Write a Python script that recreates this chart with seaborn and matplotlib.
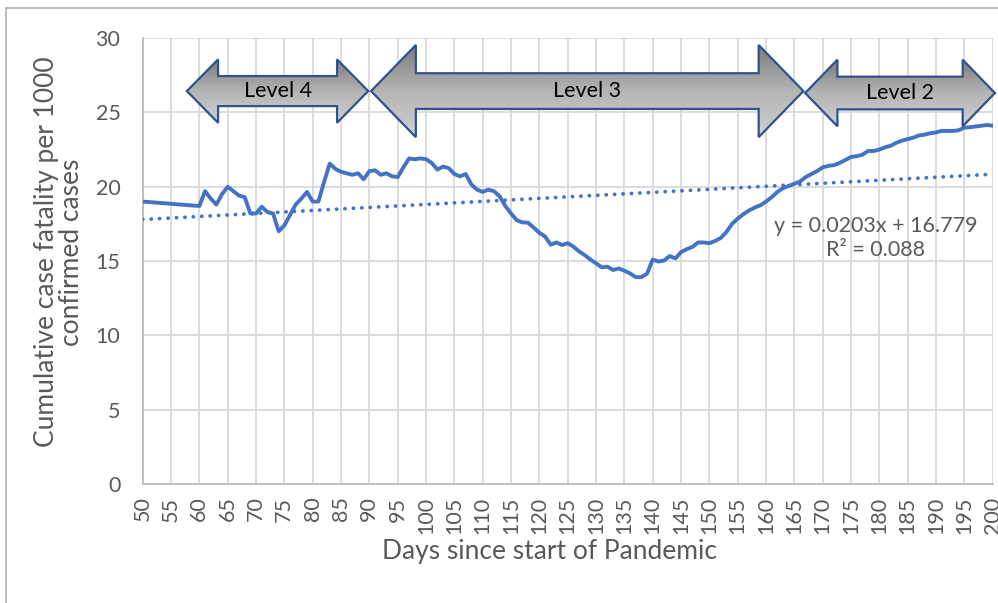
import numpy as np
import pandas as pd
import seaborn as sns
import matplotlib.pyplot as plt
from matplotlib.patches import Polygon
from matplotlib.lines import Line2D
from matplotlib.colors import LinearSegmentedColormap
from matplotlib.ticker import MultipleLocator

# days since start of pandemic and cumulative case fatality per 1000 confirmed cases
days = [50, 60, 61, 62, 63, 64, 65, 66, 67, 68, 69, 70, 71, 72, 73, 74, 75, 76, 77, 78, 79,
        80, 81, 82, 83, 84, 85, 86, 87, 88, 89, 90, 91, 92, 93, 94, 95, 96, 97, 98, 99,
        100, 101, 102, 103, 104, 105, 106, 107, 108, 109, 110, 111, 112, 113, 114, 115, 116, 117, 118, 119,
        120, 121, 122, 123, 124, 125, 126, 127, 128, 129, 130, 131, 132, 133, 134, 135, 136, 137, 138, 139,
        140, 141, 142, 143, 144, 145, 146, 147, 148, 149, 150, 151, 152, 153, 154, 155, 156, 157, 158, 159,
        160, 161, 162, 163, 164, 165, 166, 167, 168, 169, 170, 171, 172, 173, 174, 175, 176, 177, 178, 179,
        180, 181, 182, 183, 184, 185, 186, 187, 188, 189, 190, 191, 192, 193, 194, 195, 196, 197, 198, 199, 200]
fatality = [19.0, 18.7, 19.7, 19.2, 18.8, 19.5, 20.0, 19.7, 19.4, 19.3, 18.2, 18.2, 18.65, 18.3, 18.2, 17.0, 17.4, 18.1, 18.8, 19.2, 19.65,
            19.0, 19.0, 20.3, 21.55, 21.2, 21.0, 20.9, 20.8, 20.9, 20.5, 21.05, 21.1, 20.8, 20.9, 20.7, 20.65, 21.3, 21.9, 21.85, 21.9,
            21.85, 21.6, 21.15, 21.35, 21.25, 20.85, 20.7, 20.85, 20.15, 19.8, 19.65, 19.8, 19.7, 19.35, 18.7, 18.2, 17.75, 17.6, 17.58, 17.25,
            16.9, 16.65, 16.1, 16.25, 16.08, 16.2, 15.97, 15.65, 15.4, 15.1, 14.85, 14.58, 14.62, 14.4, 14.5, 14.35, 14.17, 13.92, 13.92, 14.15,
            15.1, 14.97, 15.03, 15.34, 15.18, 15.6, 15.8, 15.95, 16.25, 16.25, 16.2, 16.35, 16.55, 16.95, 17.5, 17.85, 18.15, 18.4, 18.6, 18.75,
            19.0, 19.3, 19.65, 19.9, 20.05, 20.2, 20.35, 20.65, 20.85, 21.05, 21.3, 21.4, 21.45, 21.6, 21.8, 22.0, 22.05, 22.15, 22.4, 22.4,
            22.5, 22.65, 22.75, 22.95, 23.1, 23.2, 23.3, 23.45, 23.5, 23.6, 23.65, 23.75, 23.75, 23.75, 23.8, 23.97, 24.0, 24.05, 24.1, 24.15, 24.1]

# linear trendline reported on the chart
trend_slope = 0.0203
trend_intercept = 16.779
trend_r2 = 0.088

# alert levels (day ranges shown as double arrows)
level_names = ["Level 4", "Level 3", "Level 2"]
level_start = [57.8, 90.3, 166.9]
level_end = [89.8, 166.6, 200.4]

df = pd.DataFrame({"day": days, "rate": fatality})
trend_x = np.array([min(days), max(days)])
trend = pd.DataFrame({"day": trend_x, "rate": trend_slope * trend_x + trend_intercept})

sns.set_theme(style="white")
plt.rcParams["font.family"] = ["Lato", "DejaVu Sans"]

blue = "#4472C4"
grey_txt = "#595959"
grid_c = "#d9d9d9"

fig = plt.figure(figsize=(9.98, 6.03), dpi=100)
ax = fig.add_axes([142.7 / 998, 1 - 484.1 / 603, 850 / 998, 446.1 / 603])

sns.lineplot(data=df, x="day", y="rate", ax=ax, color=blue, linewidth=2.8, zorder=3)
sns.lineplot(data=trend, x="day", y="rate", ax=ax, color=blue, linewidth=2.7,
             linestyle=(0, (0.05, 2.2)), dash_capstyle="round", zorder=3)

ax.set_xlim(50, 200)
ax.set_ylim(0, 30)
ax.xaxis.set_major_locator(MultipleLocator(5))
ax.xaxis.set_minor_locator(MultipleLocator(1))
ax.yaxis.set_major_locator(MultipleLocator(5))
ax.yaxis.set_minor_locator(MultipleLocator(1))
ax.grid(True, which="major", color=grid_c, linewidth=1.3)
ax.set_axisbelow(True)
for s in ["top", "right"]:
    ax.spines[s].set_visible(False)
for s in ["left", "bottom"]:
    ax.spines[s].set_color("#bfbfbf")
    ax.spines[s].set_linewidth(1.4)
ax.tick_params(axis="both", which="both", direction="in", color="#bfbfbf", width=1.1,
               labelcolor=grey_txt, labelsize=15.5)
ax.tick_params(axis="x", which="major", length=5, pad=9, labelrotation=90)
ax.tick_params(axis="x", which="minor", length=3.5)
ax.tick_params(axis="y", which="major", length=0, pad=16)
ax.tick_params(axis="y", which="minor", length=5)

ax.set_xlabel("Days since start of Pandemic", fontsize=19, color=grey_txt)
ax.xaxis.set_label_coords(0.479, -0.152)
ax.xaxis.label.set_va("center")
ax.set_ylabel("Cumulative case fatality per 1000\nconfirmed cases", fontsize=19, color=grey_txt,
              linespacing=1.0)
ax.yaxis.set_label_coords(-0.0985, 0.52)
ax.yaxis.label.set_va("center")

ax.text(179.4, 16.55, f"y = {trend_slope}x + {trend_intercept}\nR² = {trend_r2}",
        ha="center", va="center", fontsize=15.5, color=grey_txt, linespacing=1.25, zorder=4)

# double-headed block arrows with grey gradient
cmap = LinearSegmentedColormap.from_list("arr", ["#7b7b7b", "#b4b4b4", "#d0d0d0"])
arrow_style = [(5.5, 2.13, 1.01, 26.43), (7.9, 3.1, 1.2, 26.43), (5.7, 2.24, 1.1, 26.3)]
for name, x0, x1, (head, hh, sh, yc) in zip(level_names, level_start, level_end, arrow_style):
    pts = [(x0, yc), (x0 + head, yc + hh), (x0 + head, yc + sh), (x1 - head, yc + sh),
           (x1 - head, yc + hh), (x1, yc), (x1 - head, yc - hh), (x1 - head, yc - sh),
           (x0 + head, yc - sh), (x0 + head, yc - hh)]
    poly = Polygon(pts, closed=True, facecolor="none", edgecolor="#2F528F", linewidth=1.6,
                   zorder=6, clip_on=False, joinstyle="miter")
    ax.add_patch(poly)
    grad = np.linspace(0, 1, 100).reshape(-1, 1)
    im = ax.imshow(grad, extent=(x0, x1, yc - hh, yc + hh), origin="upper", cmap=cmap,
                   aspect="auto", zorder=5, interpolation="bilinear")
    im.set_clip_path(poly)
    im.set_clip_box(fig.bbox)
    ax.text((x0 + x1) / 2, yc, name, ha="center", va="center", fontsize=15.5, color="black", zorder=7)

ax.set_xlim(50, 200)
ax.set_ylim(0, 30)

# outer chart frame
fig.add_artist(Line2D([6 / 998, 6 / 998], [0, 1 - 8 / 603], transform=fig.transFigure, color="#b0b0b0", lw=1.2))
fig.add_artist(Line2D([6 / 998, 1], [1 - 8 / 603, 1 - 8 / 603], transform=fig.transFigure, color="#b0b0b0", lw=1.2))

plt.savefig("out.png", dpi=100)
